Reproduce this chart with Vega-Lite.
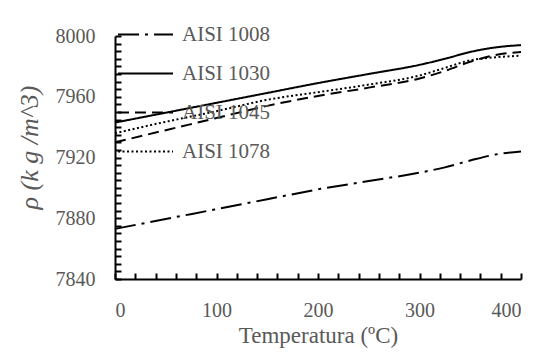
{
  "$schema": "https://vega.github.io/schema/vega-lite/v6.json",
  "width": 406,
  "height": 243,
  "autosize": {"type": "none"},
  "padding": {"left": 115, "top": 36, "right": 27, "bottom": 79},
  "background": "white",
  "config": {
    "view": {"stroke": null},
    "font": "Liberation Serif",
    "axis": {"labelFont": "Liberation Serif", "titleFont": "Liberation Serif"},
    "legend": {"labelFont": "Liberation Serif"}
  },
  "data": {"values": [
    {"series": "AISI 1008", "t": 0, "rho": 7873},
    {"series": "AISI 1008", "t": 50, "rho": 7879.5},
    {"series": "AISI 1008", "t": 100, "rho": 7886},
    {"series": "AISI 1008", "t": 150, "rho": 7892.5},
    {"series": "AISI 1008", "t": 200, "rho": 7899},
    {"series": "AISI 1008", "t": 250, "rho": 7904.5},
    {"series": "AISI 1008", "t": 300, "rho": 7910},
    {"series": "AISI 1008", "t": 325, "rho": 7913.5},
    {"series": "AISI 1008", "t": 350, "rho": 7918},
    {"series": "AISI 1008", "t": 375, "rho": 7922},
    {"series": "AISI 1008", "t": 400, "rho": 7924},
    {"series": "AISI 1030", "t": 0, "rho": 7943},
    {"series": "AISI 1030", "t": 50, "rho": 7949.5},
    {"series": "AISI 1030", "t": 100, "rho": 7956},
    {"series": "AISI 1030", "t": 150, "rho": 7962.5},
    {"series": "AISI 1030", "t": 200, "rho": 7969},
    {"series": "AISI 1030", "t": 250, "rho": 7975},
    {"series": "AISI 1030", "t": 300, "rho": 7981},
    {"series": "AISI 1030", "t": 325, "rho": 7985},
    {"series": "AISI 1030", "t": 350, "rho": 7989.5},
    {"series": "AISI 1030", "t": 375, "rho": 7992.5},
    {"series": "AISI 1030", "t": 400, "rho": 7994},
    {"series": "AISI 1045", "t": 0, "rho": 7930},
    {"series": "AISI 1045", "t": 50, "rho": 7938},
    {"series": "AISI 1045", "t": 100, "rho": 7946},
    {"series": "AISI 1045", "t": 150, "rho": 7954},
    {"series": "AISI 1045", "t": 200, "rho": 7960.5},
    {"series": "AISI 1045", "t": 250, "rho": 7966},
    {"series": "AISI 1045", "t": 300, "rho": 7972},
    {"series": "AISI 1045", "t": 325, "rho": 7977},
    {"series": "AISI 1045", "t": 350, "rho": 7983},
    {"series": "AISI 1045", "t": 375, "rho": 7987.5},
    {"series": "AISI 1045", "t": 400, "rho": 7989.5},
    {"series": "AISI 1078", "t": 0, "rho": 7936},
    {"series": "AISI 1078", "t": 50, "rho": 7943.5},
    {"series": "AISI 1078", "t": 100, "rho": 7950.5},
    {"series": "AISI 1078", "t": 150, "rho": 7958},
    {"series": "AISI 1078", "t": 200, "rho": 7963},
    {"series": "AISI 1078", "t": 250, "rho": 7968},
    {"series": "AISI 1078", "t": 300, "rho": 7974},
    {"series": "AISI 1078", "t": 325, "rho": 7979},
    {"series": "AISI 1078", "t": 350, "rho": 7984},
    {"series": "AISI 1078", "t": 375, "rho": 7986},
    {"series": "AISI 1078", "t": 400, "rho": 7987}
  ]},
  "mark": {"type": "line", "strokeWidth": 2, "color": "black", "interpolate": "monotone"},
  "encoding": {
    "x": {
      "field": "t", "type": "quantitative",
      "scale": {"domain": [0, 400], "nice": false, "zero": false},
      "axis": {
        "title": "Temperatura (ºC)",
        "values": [0, 20, 40, 60, 80, 100, 120, 140, 160, 180, 200, 220, 240, 260, 280, 300, 320, 340, 360, 380, 400],
        "labelExpr": "datum.value % 100 == 0 ? datum.label : ''",
        "grid": false,
        "tickColor": "#000000", "tickWidth": 2, "tickSize": -6,
        "domainColor": "#000000", "domainWidth": 2,
        "labelPadding": 27, "labelFontSize": 20, "labelColor": "#595959",
        "titleFontSize": 23, "titleFontWeight": "normal",
        "titleColor": "#595959", "titlePadding": 4
      }
    },
    "y": {
      "field": "rho", "type": "quantitative",
      "scale": {"domain": [7840, 8000], "nice": false, "zero": false},
      "axis": {
        "title": "ρ (k g /m^3)",
        "values": [7840, 7845, 7850, 7855, 7860, 7865, 7870, 7875, 7880, 7885, 7890, 7895, 7900, 7905, 7910, 7915, 7920, 7925, 7930, 7935, 7940, 7945, 7950, 7955, 7960, 7965, 7970, 7975, 7980, 7985, 7990, 7995, 8000],
        "labelExpr": "datum.value % 40 == 0 ? replace(datum.label, ',', '') : ''",
        "grid": false,
        "tickColor": "#000000", "tickWidth": 2, "tickSize": -6,
        "domainColor": "#000000", "domainWidth": 2,
        "labelPadding": 26, "labelFontSize": 20, "labelColor": "#595959",
        "titleFontSize": 26, "titleFontWeight": "normal",
        "titleFontStyle": "italic",
        "titleColor": "#595959",
        "titleX": -73, "titleY": 111
      }
    },
    "strokeDash": {
      "field": "series", "type": "nominal",
      "scale": {
        "domain": ["AISI 1008", "AISI 1030", "AISI 1045", "AISI 1078"],
        "range": [[21, 6, 3, 6], [1, 0], [11, 6], [2, 2.5]]
      },
      "legend": {
        "title": null,
        "orient": "none",
        "legendX": 2,
        "legendY": -30,
        "padding": 0,
        "symbolType": "stroke",
        "symbolSize": 3025,
        "symbolStrokeWidth": 2,
        "symbolStrokeColor": "black",
        "labelOffset": 8,
        "labelFontSize": 21,
        "labelColor": "#595959",
        "rowPadding": -30
      }
    }
  }
}
